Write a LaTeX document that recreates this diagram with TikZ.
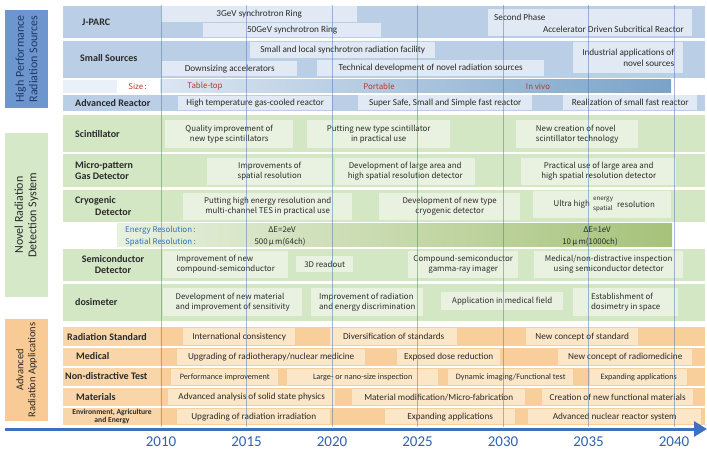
\documentclass[tikz,border=0pt]{standalone}
\usepackage{fontspec}
\setmainfont{Carlito}
\newfontfamily\gothic{Noto Sans CJK JP}
\usetikzlibrary{arrows.meta}
\definecolor{catblue}{HTML}{6E96CE}
\definecolor{cattxtblue}{HTML}{1F3A68}
\definecolor{bband}{HTML}{BACEE5}
\definecolor{bboxc}{HTML}{E1EAF4}
\definecolor{sizeL}{HTML}{DCE6F2}
\definecolor{sizeR}{HTML}{7AA3C8}
\definecolor{gband}{HTML}{D3E7C5}
\definecolor{gboxc}{HTML}{E9F2E1}
\definecolor{resL}{HTML}{E8F1DF}
\definecolor{resR}{HTML}{A6C27A}
\definecolor{oband}{HTML}{F8CE9B}
\definecolor{oboxc}{HTML}{FCE6C8}
\definecolor{olabel}{HTML}{F9D6AA}
\definecolor{catgreen}{HTML}{D5E9C8}
\definecolor{catorange}{HTML}{F7CA96}
\definecolor{yearblue}{HTML}{2F62AE}
\definecolor{axisblue}{HTML}{3F6FBF}
\definecolor{vlinec}{HTML}{4F78B4}
\definecolor{redtxt}{HTML}{B8392E}
\definecolor{restxt}{HTML}{2E6FC0}
\definecolor{txt}{HTML}{2A2A2A}
\newcommand{\bodyf}{\fontsize{9.2}{10.5}\selectfont}
\newcommand{\smallf}{\fontsize{8.2}{9.5}\selectfont}
\newcommand{\gothf}{\gothic\fontsize{7.9}{10}\selectfont}
\newcommand{\labf}{\bfseries\fontsize{10}{11.5}\selectfont}
\newcommand{\bx}[7]{\node[#6,anchor=north west,minimum width={(#4)-(#2)},minimum height={(#5)-(#3)}] (#1) at (#2,#3) {#7};}
\begin{document}
\begin{tikzpicture}[x=1pt,y=-1pt,
  bb/.style={fill=bboxc,inner sep=0pt,font=\bodyf,text=txt,align=center},
  gb/.style={fill=gboxc,inner sep=0pt,font=\gothf,text=txt,align=center},
  gbl/.style={fill=gboxc,inner sep=0pt,font=\gothf,text=txt,align=left},
  ob/.style={fill=oboxc,inner sep=0pt,font=\bodyf,text=txt,align=center},
  obs/.style={fill=oboxc,inner sep=0pt,font=\smallf,text=txt,align=center},
  lab/.style={font=\labf,text=txt,inner sep=0pt},
  cat/.style={rotate=90,inner sep=0pt,align=center,font=\fontsize{12}{13.5}\selectfont},
  sizet/.style={font=\gothf,text=redtxt,inner sep=0pt},
  rest/.style={font=\gothf,text=restxt,inner sep=0pt,anchor=west},
  resv/.style={font=\gothf,text=txt,inner sep=0pt},
  yr/.style={font=\fontsize{15}{17}\selectfont,text=yearblue,inner sep=0pt},
  vl/.style={vlinec,line width=0.5pt,opacity=0.5}]
\useasboundingbox (0,0) rectangle (707,449);
% ---------- category boxes
\node[cat,fill=catblue,text=cattxtblue,minimum width=98pt,minimum height=43pt] (catA) at (26.5,59) {High Performance\\Radiation Sources};
\node[cat,fill=catgreen,text=txt,minimum width=164pt,minimum height=43pt] (catB) at (26.5,215) {Novel Radiation\\Detection System};
\node[cat,fill=catorange,text=txt,minimum width=102pt,minimum height=43pt,font=\fontsize{10.5}{12}\selectfont] (catC) at (26.5,370) {Advanced\\Radiation Applications};
% ---------- blue rows
\fill[bband] (63,6) rectangle (705,38);
\fill[bband] (63,41) rectangle (705,78);
\fill[sizeL!60!white] (63,80) rectangle (117,93);
\shade[left color=sizeL,right color=sizeR] (160,80) rectangle (671,93);
\fill[bband] (63,95) rectangle (705,111);
% ---------- green rows
\fill[gband] (63,115) rectangle (705,152);
\fill[gband] (63,154) rectangle (705,187);
\fill[gband] (63,190) rectangle (705,222);
\shade[left color=resL,right color=resR] (117,224) rectangle (672,235.5);
\shade[left color=resL,right color=resR] (117,237) rectangle (672,247);
\fill[gband] (63,249) rectangle (705,281);
\fill[gband] (63,284) rectangle (705,321);
% ---------- orange rows
\foreach \a/\b in {327/346,348/365.5,367.5/386,388/406,408/425}{
  \fill[oband] (63,\a) rectangle (705,\b);
  \fill[olabel] (63,\a) rectangle (160,\b);}
% ---------- row labels
\node[lab,anchor=west] (lJ) at (82,22) {J-PARC};
\node[lab,anchor=west] (lS) at (80,58) {Small Sources};
\node[sizet,anchor=east] (lSize) at (147,86.5) {Size\,:};
\node[lab,anchor=west] (lA) at (75,103) {Advanced Reactor};
\node[lab,anchor=west] (lSc) at (75,134) {Scintillator};
\node[lab,anchor=west,align=left] (lM) at (75,170.5) {Micro-pattern\\Gas Detector};
\node[lab,anchor=west,align=left] (lC) at (75,206) {Cryogenic\\\hspace*{20pt}Detector};
\node[lab,align=center] (lSe) at (113,264.5) {Semiconductor\\Detector};
\node[lab,anchor=west] (lD) at (75,302.5) {dosimeter};
\node[lab,anchor=west] (lR) at (67,337) {Radiation Standard};
\node[lab,anchor=west] (lMe) at (76,356) {Medical};
\node[lab,anchor=west] (lN) at (65,376.5) {Non-distractive Test};
\node[lab,anchor=west] (lMa) at (76,397) {Materials};
\node[lab,align=center,font=\bfseries\fontsize{7.6}{8.4}\selectfont] (lE) at (112,416.5) {Environment, Agriculture\\and Energy};
% ---------- blue boxes
\bx{j1}{161}{6}{357}{22}{bb}{3GeV synchrotron Ring}
\bx{j2}{203}{23}{381}{37}{bb}{50GeV synchrotron Ring}
\bx{j3}{488}{9}{692}{36}{bb}{}
\node[font=\bodyf,text=txt,inner sep=0pt,anchor=west] (j3a) at (494,17) {Second Phase};
\node[font=\bodyf,text=txt,inner sep=0pt,anchor=east] (j3b) at (684,29) {Accelerator Driven Subcritical Reactor};
\bx{s1}{250}{42}{435}{58}{bb}{Small and local synchrotron radiation facility}
\bx{s2}{162}{61}{297}{76}{bb}{Downsizing accelerators}
\bx{s3}{317}{60}{544}{76}{bb}{Technical development of novel radiation sources}
\bx{s4}{573}{42}{683}{73}{bb,align=right}{Industrial applications of\\novel sources}
\node[sizet] (zT) at (205,86.5) {Table-top};
\node[sizet] (zP) at (379,86.5) {Portable};
\node[sizet] (zV) at (538,86.5) {In vivo};
\bx{a1}{178}{96}{332}{110}{bb}{High temperature gas-cooled reactor}
\bx{a2}{358}{95}{532}{110}{bb}{Super Safe, Small and Simple fast reactor}
\bx{a3}{563}{95}{697}{110}{bb}{Realization of small fast reactor}
% ---------- green boxes
\bx{g1}{165}{120}{293}{148}{gb}{Quality improvement of\\new type scintillators}
\bx{g2}{307}{120}{450}{148}{gb}{Putting new type scintillator\\in practical use}
\bx{g3}{516}{120}{638}{148}{gbl}{New creation of novel\\scintillator technology}
\bx{m1}{207}{158}{332}{185}{gb}{Improvements of\\spatial resolution}
\bx{m2}{335}{158}{475}{185}{gb}{Development of large area and\\high spatial resolution detector}
\bx{m3}{521}{158}{676}{185}{gb}{Practical use of large area and\\high spatial resolution detector}
\bx{c1}{183}{193}{352}{220}{gb}{Putting high energy resolution and\\multi-channel TES in practical use}
\bx{c2}{379}{193}{520}{220}{gb}{Development of new type\\cryogenic detector}
\bx{c3}{533}{191}{671}{218}{gb}{}
\node[font=\gothf,text=txt,inner sep=0pt,anchor=east] (c3a) at (590,204.5) {Ultra high};
\node[font=\gothic\fontsize{6.2}{7}\selectfont,text=txt,inner sep=0pt,anchor=west] (c3b) at (593,200) {energy};
\node[font=\gothic\fontsize{6.2}{7}\selectfont,text=txt,inner sep=0pt,anchor=west] (c3c) at (593,208.5) {spatial};
\node[font=\gothf,text=txt,inner sep=0pt,anchor=west] (c3d) at (617,204.5) {resolution};
\node[rest] (eR) at (125,230) {Energy Resolution\,:};
\node[rest] (sR) at (125,242) {Spatial Resolution\,:};
\node[resv] (e1) at (282,230) {ΔE=2eV};
\node[resv] (s1v) at (280,242) {500\,μ\,m(64ch)};
\node[resv] (e2) at (597,230) {ΔE=1eV};
\node[resv] (s2v) at (590,242) {10\,μ\,m(1000ch)};
\bx{sd1}{163}{251}{288}{278}{gbl}{Improvement of new\\compound-semiconductor}
\bx{sd2}{296}{256}{353}{272}{gb}{3D readout}
\bx{sd3}{408}{251}{518}{278}{gb}{Compound-semiconductor\\gamma-ray imager}
\bx{sd4}{534}{251}{683}{278}{gb}{Medical/non-distractive inspection\\using semiconductor detector}
\bx{d1}{163}{288}{302}{316}{gbl}{Development of new material\\and improvement of sensitivity}
\bx{d2}{311}{288}{423}{316}{gbl}{Improvement of radiation\\and energy discrimination}
\bx{d3}{441}{292}{563}{310}{gb}{Application in medical field}
\bx{d4}{573}{288}{678}{316}{gbl}{Establishment of\\dosimetry in space}
% ---------- orange boxes
\bx{r1}{183}{328}{295}{345}{ob}{International consistency}
\bx{r2}{330}{328}{457}{345}{ob}{Diversification of standards}
\bx{r3}{526}{328}{638}{345}{ob}{New concept of standard}
\bx{md1}{177}{349}{365}{364.5}{ob}{Upgrading of radiotherapy/nuclear medicine}
\bx{md2}{397}{349}{500}{364.5}{ob}{Exposed dose reduction}
\bx{md3}{558}{349}{692}{364.5}{ob}{New concept of radiomedicine}
\bx{n1}{171}{368.5}{278}{385}{obs}{Performance improvement}
\bx{n2}{287}{368.5}{438}{385}{obs}{Large- or nano-size inspection}
\bx{n3}{448}{368.5}{573}{385}{obs}{Dynamic imaging/Functional test}
\bx{n4}{590}{368.5}{687}{385}{obs}{Expanding applications}
\bx{mt1}{168}{389}{335}{405}{ob}{Advanced analysis of solid state physics}
\bx{mt2}{352}{389}{525}{405}{ob}{Material modification/Micro-fabrication}
\bx{mt3}{542}{389}{693}{405}{ob}{Creation of new functional materials}
\bx{ev1}{177}{409}{330}{424}{ob}{Upgrading of radiation irradiation}
\bx{ev2}{385}{409}{515}{424}{ob}{Expanding applications}
\bx{ev3}{528}{409}{701}{424}{ob}{Advanced nuclear reactor system}
% ---------- year lines
\foreach \k in {0,...,6}{\draw[vl] ({161+85.5*\k},5) -- ({161+85.5*\k},427);}
% ---------- axis
\coordinate (axs) at (5,429);
\coordinate (axe) at (707,429);
\draw[axisblue,line width=3pt,-{Triangle[length=13pt,width=15pt]}] (axs) -- (axe);
\foreach \y [count=\i from 0] in {2010,2015,2020,2025,2030,2035,2040}{
  \node[yr] (y\y) at ({161+85.5*\i},441.5) {\y};}
\end{tikzpicture}
\end{document}
